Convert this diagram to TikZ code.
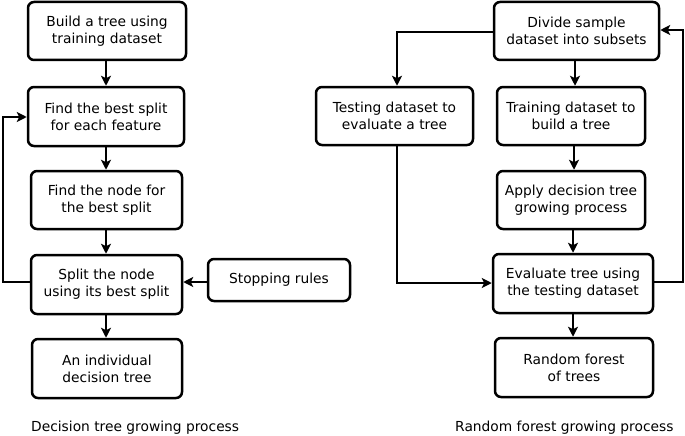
\documentclass[tikz,border=0pt]{standalone}
\usepackage{fontspec}
\setmainfont{DejaVu Sans}
\usetikzlibrary{arrows.meta}
\begin{document}
\begin{tikzpicture}[x=1pt,y=-1pt,
  box/.style={draw,line width=2.5pt,rounded corners=6pt,align=center,inner sep=0pt,
    font=\fontsize{13.8}{17}\selectfont},
  arr/.style={line width=2.1pt,-{Stealth[length=10pt,width=10pt,inset=2.5pt]}},
  captext/.style={font=\fontsize{13.8}{17}\selectfont,anchor=west,inner sep=0pt}]
\useasboundingbox (0,0) rectangle (685,436);
% left column
\node[box,minimum width=158pt,minimum height=58pt] (b1) at (107,31) {Build a tree using\\training dataset};
\node[box,minimum width=156pt,minimum height=59pt] (b2) at (106,116.5) {Find the best split\\for each feature};
\node[box,minimum width=151pt,minimum height=58pt] (b3) at (106.5,200) {Find the node for\\the best split};
\node[box,minimum width=151pt,minimum height=59pt] (b4) at (106.5,284.5) {Split the node\\using its best split};
\node[box,minimum width=150pt,minimum height=59pt] (b5) at (107,368.5) {An individual\\decision tree};
\node[box,minimum width=142pt,minimum height=42pt] (stop) at (279,280) {Stopping rules};
% right column
\node[box,minimum width=165pt,minimum height=58pt] (div) at (576.5,31) {Divide sample\\dataset into subsets};
\node[box,minimum width=157pt,minimum height=58pt] (test) at (394.5,116) {Testing dataset to\\evaluate a tree};
\node[box,minimum width=148pt,minimum height=58pt] (train) at (571,116) {Training dataset to\\build a tree};
\node[box,minimum width=148pt,minimum height=58pt] (apply) at (571,200) {Apply decision tree\\growing process};
\node[box,minimum width=160pt,minimum height=59pt] (eval) at (573,283.5) {Evaluate tree using\\the testing dataset};
\node[box,minimum width=158pt,minimum height=59pt] (rf) at (574,367.5) {Random forest\\of trees};
% captions
\node[captext] (c1) at (31,428) {Decision tree growing process};
\node[captext] (c2) at (455,428) {Random forest growing process};
% left arrows
\draw[arr] (b1.south -| 106,0) -- (b2.north -| 106,0);
\draw[arr] (b2.south -| 106,0) -- (b3.north -| 106,0);
\draw[arr] (b3.south -| 106,0) -- (b4.north -| 106,0);
\draw[arr] (b4.south -| 106,0) -- (b5.north -| 106,0);
\coordinate (lx) at (3,0);
\draw[arr] (b4.west |- 0,282) -- (lx |- 0,282) -- (lx |- 0,117) -- (b2.west |- 0,117);
\draw[arr] (stop.west |- 0,282) -- (b4.east |- 0,282);
% right arrows
\draw[arr] (div.south -| 575,0) -- (train.north -| 575,0);
\draw[arr] (train.south -| 574,0) -- (apply.north -| 574,0);
\draw[arr] (apply.south -| 573,0) -- (eval.north -| 573,0);
\draw[arr] (eval.south -| 573,0) -- (rf.north -| 573,0);
\coordinate (tx) at (397,0);
\draw[arr] (div.west |- 0,32) -- (tx |- 0,32) -- (tx |- test.north);
\draw[arr] (tx |- test.south) -- (tx |- 0,283) -- (eval.west |- 0,283);
\coordinate (rx) at (683,0);
\draw[arr] (eval.east |- 0,282) -- (rx |- 0,282) -- (rx |- 0,30) -- (div.east |- 0,30);
\end{tikzpicture}
\end{document}
